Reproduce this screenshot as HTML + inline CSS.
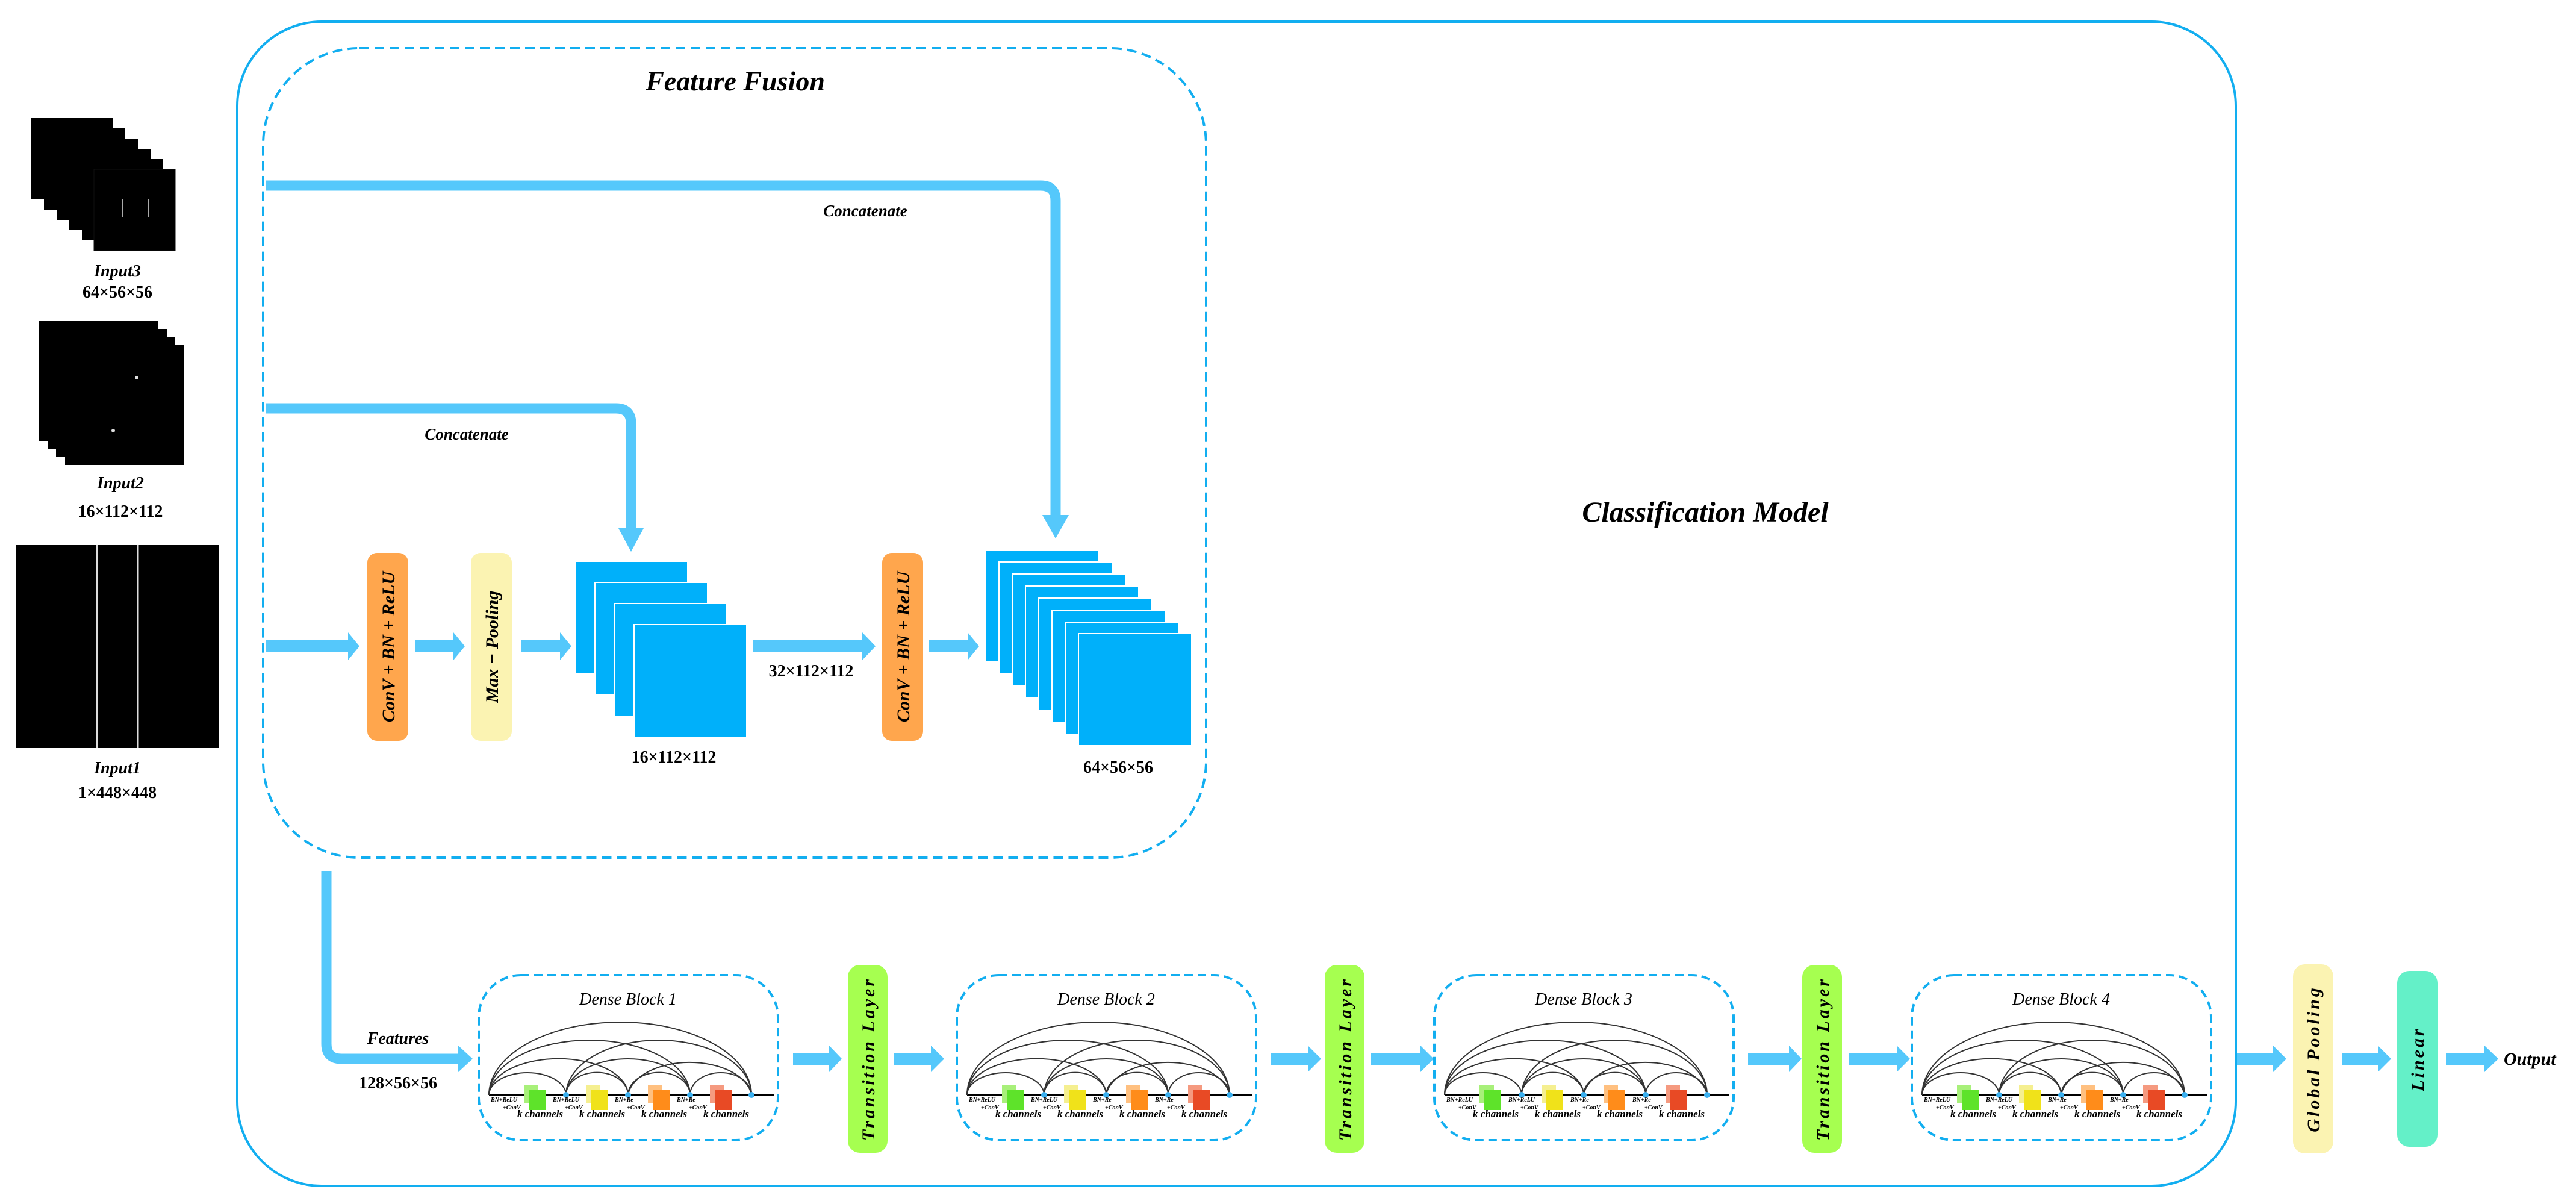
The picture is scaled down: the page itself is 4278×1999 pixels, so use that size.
<!DOCTYPE html>
<html><head><meta charset="utf-8"><style>
html,body{margin:0;padding:0;background:#fff;}
svg{display:block;}
text{font-family:"Liberation Serif",serif;font-style:italic;font-weight:bold;fill:#000;}
.dim{font-style:normal;}
</style></head><body>
<svg width="4278" height="1999" viewBox="0 0 4278 1999" xmlns="http://www.w3.org/2000/svg">
<!-- Inputs -->
<g fill="#000">
<rect x="52" y="196" width="135" height="135"/><rect x="73" y="213" width="135" height="135"/><rect x="94" y="230" width="135" height="135"/><rect x="115" y="247" width="135" height="135"/><rect x="136" y="264" width="135" height="135"/><rect x="156" y="281" width="135" height="135" stroke="#111"/>
<rect x="65" y="533" width="198" height="200"/><rect x="79" y="546" width="198" height="200"/><rect x="93" y="559" width="198" height="200"/><rect x="108" y="572" width="198" height="200"/>
<rect x="26" y="905" width="338" height="337"/>
</g>
<line x1="204" y1="330" x2="204" y2="360" stroke="#aaa" stroke-width="2"/>
<line x1="247" y1="330" x2="247" y2="360" stroke="#aaa" stroke-width="2"/>
<circle cx="227" cy="627" r="3" fill="#ddd"/><circle cx="188" cy="715" r="3" fill="#ddd"/>
<line x1="161" y1="905" x2="161" y2="1242" stroke="#ddd" stroke-width="3"/>
<line x1="229" y1="905" x2="229" y2="1242" stroke="#ddd" stroke-width="3"/>
<g font-size="28" text-anchor="middle">
<text x="195" y="459">Input3</text><text class="dim" x="195" y="494">64×56×56</text>
<text x="200" y="811">Input2</text><text class="dim" x="200" y="858">16×112×112</text>
<text x="195" y="1284">Input1</text><text class="dim" x="195" y="1325">1×448×448</text>
</g>

<!-- Outer box -->
<rect x="394" y="36" width="3319" height="1933" rx="140" fill="none" stroke="#12aef0" stroke-width="4"/>
<text x="2832" y="866" font-size="48" text-anchor="middle">Classification Model</text>

<!-- Feature fusion -->
<rect x="437" y="80" width="1566" height="1344" rx="160" fill="none" stroke="#12aef0" stroke-width="4" stroke-dasharray="16 9"/>
<text x="1221" y="150" font-size="46" text-anchor="middle">Feature Fusion</text>

<g fill="none" stroke="#55c8fb" stroke-width="17">
<path d="M441 308 H1728 Q1753 308 1753 333 V862"/>
<path d="M441 678 H1023 Q1048 678 1048 703 V882"/>
<path d="M542 1446 V1733 Q542 1758 567 1758 H762"/>
</g>
<g fill="#55c8fb">
<polygon points="1731,855 1775,855 1753,894"/>
<polygon points="1027,877 1069,877 1048,916"/>
<polygon points="760,1735 785,1758 760,1781"/>
</g>
<g font-size="27" text-anchor="middle">
<text x="1437" y="359">Concatenate</text>
<text x="775" y="730">Concatenate</text>
</g>

<!-- main row arrows -->
<g fill="#55c8fb">
<rect x="441" y="1063" width="140" height="20"/><polygon points="578,1050 597,1073 578,1096"/>
<rect x="689" y="1063" width="67" height="20"/><polygon points="753,1050 772,1073 753,1096"/>
<rect x="866" y="1063" width="67" height="20"/><polygon points="930,1050 949,1073 930,1096"/>
<rect x="1251" y="1063" width="184" height="20"/><polygon points="1432,1050 1454,1073 1432,1096"/>
<rect x="1543" y="1063" width="67" height="20"/><polygon points="1607,1050 1626,1073 1607,1096"/>
</g>
<rect x="610" y="918" width="68" height="312" rx="16" fill="#ffa64d"/>
<rect x="782" y="918" width="68" height="312" rx="16" fill="#fbf3b2"/>
<rect x="1465" y="918" width="68" height="312" rx="16" fill="#ffa64d"/>
<g font-size="30">
<text transform="translate(655,1074) rotate(-90)" text-anchor="middle">ConV + BN + ReLU</text>
<text transform="translate(827,1074) rotate(-90)" text-anchor="middle">Max − Pooling</text>
<text transform="translate(1510,1074) rotate(-90)" text-anchor="middle">ConV + BN + ReLU</text>
</g>
<g fill="#00b0fa" stroke="#fff" stroke-width="2">
<rect x="955" y="932" width="187" height="187"/><rect x="988" y="967" width="187" height="187"/><rect x="1020" y="1002" width="187" height="187"/><rect x="1053" y="1037" width="187" height="187"/>
<rect x="1637" y="913" width="188" height="186"/><rect x="1659" y="933" width="188" height="186"/><rect x="1681" y="953" width="188" height="186"/><rect x="1703" y="973" width="188" height="186"/><rect x="1725" y="993" width="188" height="186"/><rect x="1747" y="1013" width="188" height="186"/><rect x="1769" y="1033" width="188" height="186"/><rect x="1791" y="1052" width="188" height="186"/>
</g>
<g font-size="28" text-anchor="middle" class="dim">
<text class="dim" x="1119" y="1266">16×112×112</text>
<text class="dim" x="1347" y="1123">32×112×112</text>
<text class="dim" x="1857" y="1283">64×56×56</text>
<text x="661" y="1733" style="font-style:italic">Features</text>
<text class="dim" x="661" y="1807">128×56×56</text>
</g>

<!-- bottom row arrows -->
<g fill="#55c8fb">
<rect x="1317" y="1748" width="62" height="20"/><polygon points="1377,1736 1398,1758 1377,1780"/>
<rect x="1484" y="1748" width="64" height="20"/><polygon points="1546,1736 1568,1758 1546,1780"/>
<rect x="2110" y="1748" width="64" height="20"/><polygon points="2172,1736 2194,1758 2172,1780"/>
<rect x="2277" y="1748" width="84" height="20"/><polygon points="2359,1736 2381,1758 2359,1780"/>
<rect x="2903" y="1748" width="70" height="20"/><polygon points="2971,1736 2992,1758 2971,1780"/>
<rect x="3070" y="1748" width="82" height="20"/><polygon points="3150,1736 3172,1758 3150,1780"/>
<rect x="3715" y="1748" width="62" height="20"/><polygon points="3775,1736 3797,1758 3775,1780"/>
<rect x="3889" y="1748" width="62" height="20"/><polygon points="3949,1736 3971,1758 3949,1780"/>
<rect x="4062" y="1748" width="66" height="20"/><polygon points="4126,1736 4149,1758 4126,1780"/>
</g>
<g fill="#a6ff50">
<rect x="1408" y="1602" width="66" height="312" rx="20"/>
<rect x="2200" y="1602" width="66" height="312" rx="20"/>
<rect x="2993" y="1602" width="66" height="312" rx="20"/>
</g>
<rect x="3808" y="1601" width="67" height="314" rx="20" fill="#fbf3b2"/>
<rect x="3981" y="1612" width="67" height="292" rx="20" fill="#64f0c8"/>
<g font-size="30" letter-spacing="4">
<text transform="translate(1452,1758) rotate(-90)" text-anchor="middle">Transition Layer</text>
<text transform="translate(2244,1758) rotate(-90)" text-anchor="middle">Transition Layer</text>
<text transform="translate(3037,1758) rotate(-90)" text-anchor="middle">Transition Layer</text>
<text transform="translate(3852,1758) rotate(-90)" text-anchor="middle">Global Pooling</text>
<text transform="translate(4025,1758) rotate(-90)" text-anchor="middle">Linear</text>
</g>
<text x="4158" y="1768" font-size="30">Output</text>

<!-- Dense blocks -->
<g id="db1" transform="translate(795,0)">
<rect x="0" y="1619" width="497" height="274" rx="70" fill="none" stroke="#12aef0" stroke-width="4" stroke-dasharray="14 8"/>
<g fill="none" stroke="#333" stroke-width="2">
<line x1="17" y1="1818" x2="490" y2="1818" stroke="#000"/>
<path d="M17 1818 A64 37 0 0 1 145 1818"/><path d="M17 1818 A115 60 0 0 1 248 1818"/><path d="M17 1818 A167 91 0 0 1 351 1818"/><path d="M17 1818 A218 121 0 0 1 453 1818"/>
<path d="M145 1818 A51 37 0 0 1 248 1818"/><path d="M145 1818 A103 60 0 0 1 351 1818"/><path d="M145 1818 A154 91 0 0 1 453 1818"/>
<path d="M248 1818 A51 37 0 0 1 351 1818"/><path d="M248 1818 A103 60 0 0 1 453 1818"/>
<path d="M351 1818 A51 37 0 0 1 453 1818"/>
</g>
<g fill="#3ab0f0"><circle cx="145" cy="1818" r="5"/><circle cx="248" cy="1818" r="5"/><circle cx="351" cy="1818" r="5"/><circle cx="453" cy="1818" r="5"/></g>
<rect x="75" y="1802" width="24" height="30" fill="#a8f07a"/><rect x="83" y="1810" width="28" height="33" fill="#5ee32a"/>
<rect x="178" y="1802" width="24" height="30" fill="#f5ef90"/><rect x="186" y="1810" width="28" height="33" fill="#f0e21a"/>
<rect x="281" y="1802" width="24" height="30" fill="#ffc080"/><rect x="289" y="1810" width="28" height="33" fill="#ff8c1a"/>
<rect x="384" y="1802" width="24" height="30" fill="#f59a80"/><rect x="392" y="1810" width="28" height="33" fill="#e84a25"/>
<g font-size="10" style="font-weight:normal"><text x="20" y="1829">BN+ReLU</text><text x="123" y="1829">BN+ReLU</text><text x="226" y="1829">BN+Re</text><text x="329" y="1829">BN+Re</text>
<text x="40" y="1842">+ConV</text><text x="143" y="1842">+ConV</text><text x="246" y="1842">+ConV</text><text x="349" y="1842">+ConV</text></g>
<g font-size="17" style="font-weight:normal"><text x="64" y="1855">k channels</text><text x="167" y="1855">k channels</text><text x="270" y="1855">k channels</text><text x="373" y="1855">k channels</text></g>
<text x="248" y="1668" font-size="28" text-anchor="middle" style="font-weight:normal">Dense Block 1</text>
</g>
<g transform="translate(1589,0)">
<rect x="0" y="1619" width="497" height="274" rx="70" fill="none" stroke="#12aef0" stroke-width="4" stroke-dasharray="14 8"/>
<g fill="none" stroke="#333" stroke-width="2">
<line x1="17" y1="1818" x2="490" y2="1818" stroke="#000"/>
<path d="M17 1818 A64 37 0 0 1 145 1818"/><path d="M17 1818 A115 60 0 0 1 248 1818"/><path d="M17 1818 A167 91 0 0 1 351 1818"/><path d="M17 1818 A218 121 0 0 1 453 1818"/>
<path d="M145 1818 A51 37 0 0 1 248 1818"/><path d="M145 1818 A103 60 0 0 1 351 1818"/><path d="M145 1818 A154 91 0 0 1 453 1818"/>
<path d="M248 1818 A51 37 0 0 1 351 1818"/><path d="M248 1818 A103 60 0 0 1 453 1818"/>
<path d="M351 1818 A51 37 0 0 1 453 1818"/>
</g>
<g fill="#3ab0f0"><circle cx="145" cy="1818" r="5"/><circle cx="248" cy="1818" r="5"/><circle cx="351" cy="1818" r="5"/><circle cx="453" cy="1818" r="5"/></g>
<rect x="75" y="1802" width="24" height="30" fill="#a8f07a"/><rect x="83" y="1810" width="28" height="33" fill="#5ee32a"/>
<rect x="178" y="1802" width="24" height="30" fill="#f5ef90"/><rect x="186" y="1810" width="28" height="33" fill="#f0e21a"/>
<rect x="281" y="1802" width="24" height="30" fill="#ffc080"/><rect x="289" y="1810" width="28" height="33" fill="#ff8c1a"/>
<rect x="384" y="1802" width="24" height="30" fill="#f59a80"/><rect x="392" y="1810" width="28" height="33" fill="#e84a25"/>
<g font-size="10" style="font-weight:normal"><text x="20" y="1829">BN+ReLU</text><text x="123" y="1829">BN+ReLU</text><text x="226" y="1829">BN+Re</text><text x="329" y="1829">BN+Re</text>
<text x="40" y="1842">+ConV</text><text x="143" y="1842">+ConV</text><text x="246" y="1842">+ConV</text><text x="349" y="1842">+ConV</text></g>
<g font-size="17" style="font-weight:normal"><text x="64" y="1855">k channels</text><text x="167" y="1855">k channels</text><text x="270" y="1855">k channels</text><text x="373" y="1855">k channels</text></g>
<text x="248" y="1668" font-size="28" text-anchor="middle" style="font-weight:normal">Dense Block 2</text>
</g>
<g transform="translate(2382,0)">
<rect x="0" y="1619" width="497" height="274" rx="70" fill="none" stroke="#12aef0" stroke-width="4" stroke-dasharray="14 8"/>
<g fill="none" stroke="#333" stroke-width="2">
<line x1="17" y1="1818" x2="490" y2="1818" stroke="#000"/>
<path d="M17 1818 A64 37 0 0 1 145 1818"/><path d="M17 1818 A115 60 0 0 1 248 1818"/><path d="M17 1818 A167 91 0 0 1 351 1818"/><path d="M17 1818 A218 121 0 0 1 453 1818"/>
<path d="M145 1818 A51 37 0 0 1 248 1818"/><path d="M145 1818 A103 60 0 0 1 351 1818"/><path d="M145 1818 A154 91 0 0 1 453 1818"/>
<path d="M248 1818 A51 37 0 0 1 351 1818"/><path d="M248 1818 A103 60 0 0 1 453 1818"/>
<path d="M351 1818 A51 37 0 0 1 453 1818"/>
</g>
<g fill="#3ab0f0"><circle cx="145" cy="1818" r="5"/><circle cx="248" cy="1818" r="5"/><circle cx="351" cy="1818" r="5"/><circle cx="453" cy="1818" r="5"/></g>
<rect x="75" y="1802" width="24" height="30" fill="#a8f07a"/><rect x="83" y="1810" width="28" height="33" fill="#5ee32a"/>
<rect x="178" y="1802" width="24" height="30" fill="#f5ef90"/><rect x="186" y="1810" width="28" height="33" fill="#f0e21a"/>
<rect x="281" y="1802" width="24" height="30" fill="#ffc080"/><rect x="289" y="1810" width="28" height="33" fill="#ff8c1a"/>
<rect x="384" y="1802" width="24" height="30" fill="#f59a80"/><rect x="392" y="1810" width="28" height="33" fill="#e84a25"/>
<g font-size="10" style="font-weight:normal"><text x="20" y="1829">BN+ReLU</text><text x="123" y="1829">BN+ReLU</text><text x="226" y="1829">BN+Re</text><text x="329" y="1829">BN+Re</text>
<text x="40" y="1842">+ConV</text><text x="143" y="1842">+ConV</text><text x="246" y="1842">+ConV</text><text x="349" y="1842">+ConV</text></g>
<g font-size="17" style="font-weight:normal"><text x="64" y="1855">k channels</text><text x="167" y="1855">k channels</text><text x="270" y="1855">k channels</text><text x="373" y="1855">k channels</text></g>
<text x="248" y="1668" font-size="28" text-anchor="middle" style="font-weight:normal">Dense Block 3</text>
</g>
<g transform="translate(3175,0)">
<rect x="0" y="1619" width="497" height="274" rx="70" fill="none" stroke="#12aef0" stroke-width="4" stroke-dasharray="14 8"/>
<g fill="none" stroke="#333" stroke-width="2">
<line x1="17" y1="1818" x2="490" y2="1818" stroke="#000"/>
<path d="M17 1818 A64 37 0 0 1 145 1818"/><path d="M17 1818 A115 60 0 0 1 248 1818"/><path d="M17 1818 A167 91 0 0 1 351 1818"/><path d="M17 1818 A218 121 0 0 1 453 1818"/>
<path d="M145 1818 A51 37 0 0 1 248 1818"/><path d="M145 1818 A103 60 0 0 1 351 1818"/><path d="M145 1818 A154 91 0 0 1 453 1818"/>
<path d="M248 1818 A51 37 0 0 1 351 1818"/><path d="M248 1818 A103 60 0 0 1 453 1818"/>
<path d="M351 1818 A51 37 0 0 1 453 1818"/>
</g>
<g fill="#3ab0f0"><circle cx="145" cy="1818" r="5"/><circle cx="248" cy="1818" r="5"/><circle cx="351" cy="1818" r="5"/><circle cx="453" cy="1818" r="5"/></g>
<rect x="75" y="1802" width="24" height="30" fill="#a8f07a"/><rect x="83" y="1810" width="28" height="33" fill="#5ee32a"/>
<rect x="178" y="1802" width="24" height="30" fill="#f5ef90"/><rect x="186" y="1810" width="28" height="33" fill="#f0e21a"/>
<rect x="281" y="1802" width="24" height="30" fill="#ffc080"/><rect x="289" y="1810" width="28" height="33" fill="#ff8c1a"/>
<rect x="384" y="1802" width="24" height="30" fill="#f59a80"/><rect x="392" y="1810" width="28" height="33" fill="#e84a25"/>
<g font-size="10" style="font-weight:normal"><text x="20" y="1829">BN+ReLU</text><text x="123" y="1829">BN+ReLU</text><text x="226" y="1829">BN+Re</text><text x="329" y="1829">BN+Re</text>
<text x="40" y="1842">+ConV</text><text x="143" y="1842">+ConV</text><text x="246" y="1842">+ConV</text><text x="349" y="1842">+ConV</text></g>
<g font-size="17" style="font-weight:normal"><text x="64" y="1855">k channels</text><text x="167" y="1855">k channels</text><text x="270" y="1855">k channels</text><text x="373" y="1855">k channels</text></g>
<text x="248" y="1668" font-size="28" text-anchor="middle" style="font-weight:normal">Dense Block 4</text>
</g>
</svg>
</body></html>
